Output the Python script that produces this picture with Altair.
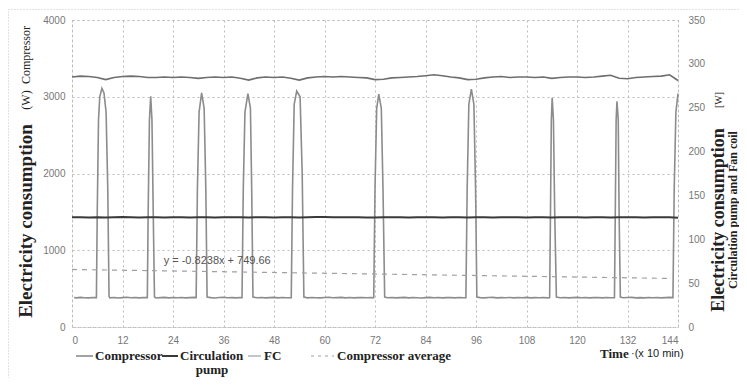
import altair as alt
import pandas as pd

# ---------------- data ----------------
x_ticks = [0, 12, 24, 36, 48, 60, 72, 84, 96, 108, 120, 132, 144]
left_ticks = [0, 500, 1000, 1500, 2000, 2500, 3000, 3500, 4000]
right_ticks = [0, 50, 100, 150, 200, 250, 300, 350]

comp_t = [0.5, 1, 2, 3, 4, 5, 5.8,
          6.0, 6.3, 6.6, 7.1, 7.6, 8.1, 8.5, 8.8,
          9, 10, 11, 12, 13, 14, 15, 16, 17, 17.9,
          18.1, 18.4, 18.7, 19.0, 19.3, 19.6,
          20, 21, 22, 23, 24, 25, 26, 27, 28, 29, 29.5,
          29.8, 30.2, 30.8, 31.4, 31.8, 32.1,
          33, 34, 35, 36, 37, 38, 39, 40, 40.4,
          40.7, 41.1, 41.8, 42.4, 42.7, 43.0,
          44, 45, 46, 47, 48, 49, 50, 51, 52, 52.1,
          52.4, 52.8, 53.4, 54.2, 54.7, 55.1,
          56, 57, 58, 59, 60, 61, 62, 63, 64, 65, 66, 67, 68, 69, 70, 71, 71.7,
          72.0, 72.4, 72.9, 73.5, 73.9, 74.3,
          75, 76, 77, 78, 79, 80, 81, 82, 83, 84, 85, 86, 87, 88, 89, 90, 91, 92, 93, 93.6,
          93.9, 94.3, 94.9, 95.5, 95.9, 96.2,
          97, 98, 99, 100, 101, 102, 103, 104, 105, 106, 107, 108, 109, 110, 111, 112, 113, 113.5,
          113.7, 113.9, 114.1, 114.4, 114.7, 115.1,
          116, 117, 118, 119, 120, 121, 122, 123, 124, 125, 126, 127, 128, 128.9,
          129.1, 129.3, 129.5, 129.8, 130.0, 130.3,
          131, 132, 133, 134, 135, 136, 137, 138, 139, 140, 141, 142, 142.8,
          143.1, 143.5, 144.0]
comp_w = [384, 380, 386, 382, 379, 385, 383,
          1500, 2700, 3000, 3110, 3050, 2800, 1800, 400,
          380, 384, 378, 383, 387, 381, 384, 379, 385, 383,
          1500, 2700, 3005, 2700, 1500, 390,
          378, 383, 386, 380, 384, 381, 385, 379, 383, 386, 382,
          1800, 2800, 3050, 2850, 1800, 390,
          383, 378, 384, 387, 381, 383, 379, 384, 382,
          1800, 2800, 3040, 2850, 1800, 390,
          381, 385, 379, 383, 386, 380, 384, 381, 383, 383,
          1800, 2900, 3075, 3000, 2000, 390,
          380, 385, 382, 379, 384, 387, 381, 383, 386, 380, 384, 379, 383, 385, 381, 384, 382,
          1800, 2850, 3035, 2850, 1800, 390,
          381, 384, 379, 383, 386, 380, 384, 382, 378, 383, 386, 381, 384, 379, 383, 385, 380, 384, 382, 383,
          1800, 2900, 3100, 2900, 1800, 390,
          383, 379, 384, 386, 380, 383, 381, 385, 379, 384, 382, 386, 380, 383, 381, 384, 379, 383,
          1500, 2700, 2985, 2700, 1500, 390,
          382, 385, 379, 383, 386, 381, 384, 380, 383, 385, 379, 384, 382, 383,
          1500, 2700, 2940, 2700, 1500, 390,
          381, 384, 386, 380, 383, 379, 385, 382, 384, 380, 383, 386, 383,
          1800, 2800, 3040]

side_t = list(range(0, 145, 2))
fc_w = [285, 286, 285.5, 284.5, 282, 284.5, 285.5, 286, 285.5, 284.5, 284.5, 285,
        284.5, 285, 284.5, 283.5, 284.5, 285, 284.5, 285, 283.5, 281.5, 284, 285,
        284.5, 285, 283.5, 281.5, 284, 285, 285.5, 285, 285.5, 285, 284.5, 284,
        282, 282.5, 284, 284.5, 285, 285.5, 286.5, 287.5, 286.5, 285, 284, 282,
        282.5, 284, 285, 285.5, 284.5, 285, 285, 284.5, 285, 283.5, 284.5, 285,
        285, 284.5, 285, 286, 287, 283.5, 283, 284.5, 285, 285.5, 286, 287.5, 281]
pump_w = [125.2, 125.0, 124.8, 125.1, 124.7, 125.0, 125.3, 125.0, 124.9, 125.1, 125.0, 124.8,
          125.0, 125.2, 124.9, 125.0, 125.1, 124.7, 125.0, 125.2, 125.0, 124.8, 125.1, 125.0,
          124.9, 125.2, 125.0, 124.8, 125.0, 125.3, 125.4, 125.1, 125.0, 125.2, 125.0, 124.7,
          124.8, 125.0, 125.1, 125.0, 124.8, 125.0, 125.2, 125.0, 124.9, 125.1, 125.0, 124.8,
          125.0, 125.1, 124.9, 125.0, 125.2, 125.0, 124.8, 125.0, 125.1, 124.9, 125.0, 125.2,
          125.0, 124.9, 125.1, 125.0, 124.8, 125.0, 125.2, 125.0, 124.9, 125.1, 125.0, 125.2, 124.5]

avg_t = [0, 142]
avg_w = [749.7, 632.7]
trend_label = "y = -0.8238x + 749.66"

series_names = ["Compressor", "Circulation", "FC", "Compressor average"]

# ---------------- styles ----------------
C_COMP = "#8c8c8c"
C_PUMP = "#3a3a3a"
C_FC = "#6e6e6e"
C_AVG = "#a0a0a0"
SERIF = "Liberation Serif"
SANS = "Liberation Sans"
W, H = 606, 307

comp_df = pd.DataFrame({"t": comp_t, "w": comp_w})
avg_df = pd.DataFrame({"t": avg_t, "w": avg_w})
side_df = pd.DataFrame({"t": side_t, "fc": fc_w, "pump": pump_w})
one = pd.DataFrame({"a": [0]})

xscale = alt.Scale(domain=[0, 144], nice=False, zero=False)
xaxis = alt.Axis(values=x_ticks, grid=True, gridColor="#bdbdbd", gridDash=[2, 3],
                 domain=False, ticks=False, labelPadding=8, labelFontSize=10,
                 labelColor="#777", labelFont=SANS, title=None, format="d")
lscale = alt.Scale(domain=[0, 4000], nice=False)
laxis = alt.Axis(values=left_ticks, grid=True, gridColor="#bdbdbd", gridDash=[2, 3],
                 domain=False, ticks=False, labelPadding=7, labelFontSize=10,
                 labelColor="#777", labelFont=SANS, title=None, format="d")
rscale = alt.Scale(domain=[0, 350], nice=False)
raxis = alt.Axis(values=right_ticks, orient="right", grid=False, domain=False, ticks=False,
                 labelPadding=10, labelFontSize=10, labelColor="#777", labelFont=SANS,
                 title=None, format="d")

frame = alt.Chart(one).mark_rect(fill=None, stroke="#c4c4c4", strokeDash=[1, 2],
                                 strokeWidth=1).encode(
    x=alt.value(-63.5), x2=alt.value(680), y=alt.value(-10.5), y2=alt.value(380))

comp = alt.Chart(comp_df).mark_line(color=C_COMP, strokeWidth=1.6).encode(
    x=alt.X("t:Q", scale=xscale, axis=xaxis),
    y=alt.Y("w:Q", scale=lscale, axis=laxis))
avg = alt.Chart(avg_df).mark_line(color=C_AVG, strokeWidth=1.2, strokeDash=[5, 5]).encode(
    x=alt.X("t:Q", scale=xscale), y=alt.Y("w:Q", scale=lscale))
trend = alt.Chart(one).mark_text(text=trend_label, font=SANS, fontSize=11,
                                 color="#555", align="center", baseline="middle").encode(
    x=alt.datum(34.5, scale=xscale), y=alt.datum(855, scale=lscale))
left = alt.layer(comp, avg, trend)

fc = alt.Chart(side_df).mark_line(color=C_FC, strokeWidth=1.6).encode(
    x=alt.X("t:Q", scale=xscale), y=alt.Y("fc:Q", scale=rscale, axis=raxis))
pump = alt.Chart(side_df).mark_line(color=C_PUMP, strokeWidth=2).encode(
    x=alt.X("t:Q", scale=xscale), y=alt.Y("pump:Q", scale=rscale, axis=raxis))
right = alt.layer(fc, pump)


def txt(s, x, y, size=13, bold=True, font=SERIF, angle=0, align="left", color="#222"):
    return alt.Chart(one).mark_text(text=s, font=font, fontSize=size,
                                    fontWeight="bold" if bold else "normal",
                                    angle=angle, align=align, baseline="middle",
                                    color=color).encode(x=alt.value(x), y=alt.value(y))


def rule(x1, x2, y, color, width=1.6, dash=None):
    kw = dict(color=color, strokeWidth=width)
    if dash:
        kw["strokeDash"] = dash
    return alt.Chart(one).mark_rule(**kw).encode(x=alt.value(x1), x2=alt.value(x2),
                                                 y=alt.value(y))


LY = 336  # legend row (plot coords)
decor = [
    # left title
    txt("Electricity consumption", -46, 201, size=19, angle=270, align="center"),
    txt("(W)", -46, 80, size=12, bold=False, angle=270, align="center"),
    txt("Compressor", -46, 35, size=12, bold=False, angle=270, align="center"),
    # right title
    txt("Electricity consumption", 647, 200, size=18, angle=270, align="center"),
    txt("[W]", 647, 80, size=10, bold=False, angle=270, align="center"),
    txt("Circulation pump and Fan coil", 661, 190, size=12, angle=270, align="center"),
    # x title
    txt("Time", 528, LY - 2, size=13),
    txt("\u00b7(x 10 min)", 559, LY - 2, size=11, bold=False, font=SANS),
    # legend
    rule(4, 21, LY, C_COMP),
    txt(series_names[0], 23, LY),
    rule(90, 106, LY, C_PUMP, width=2),
    txt(series_names[1], 108, LY),
    txt("pump", 140, LY + 14, align="center"),
    rule(176, 189, LY, "#b8b8b8"),
    txt(series_names[2], 192, LY),
    rule(239, 262, LY, C_AVG, width=1.2, dash=[3, 4]),
    txt(series_names[3], 265, LY),
]

chart = alt.layer(frame, left, right, *decor).resolve_scale(y="independent").properties(
    width=W, height=H,
    autosize=alt.AutoSizeParams(type="none"),
    padding={"left": 64, "top": 12, "right": 61, "bottom": 51},
    background="white",
).configure_view(stroke="#bdbdbd", strokeDash=[2, 3], strokeWidth=1)

chart.save("out.html", embed_options={"renderer": "svg", "actions": False})
